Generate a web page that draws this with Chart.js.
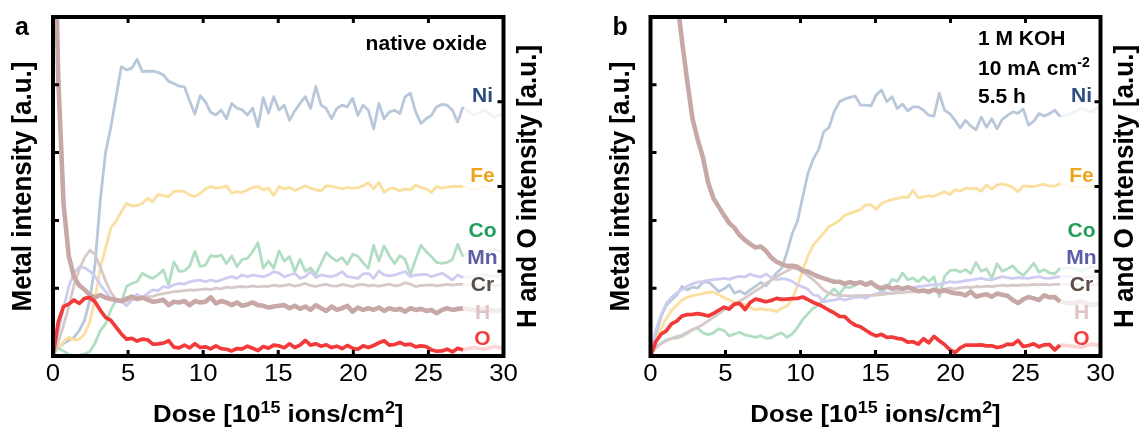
<!DOCTYPE html>
<html><head><meta charset="utf-8">
<script src="https://cdn.jsdelivr.net/npm/chart.js@4.4.1/dist/chart.umd.min.js"></script>
<style>
html,body{margin:0;padding:0;background:#fff;width:1140px;height:430px;overflow:hidden}
canvas{position:absolute;top:0}
#ca{left:0}
#cb{left:575px}
</style></head><body>
<canvas id="ca" width="575" height="430"></canvas>
<canvas id="cb" width="565" height="430"></canvas>
<script>
// ---- data (dose in 1e15 ions/cm2; intensities in a.u.) ----
const dose = [0,0.35,0.7,1.05,1.4,1.75,2.1,2.45,2.8,3.15,
3.5,3.85,4.2,4.55,4.9,5.25,5.6,5.95,6.3,6.65,
7,7.35,7.7,8.05,8.4,8.75,9.1,9.45,9.8,10.15,
10.5,10.85,11.2,11.55,11.9,12.25,12.6,12.95,13.3,13.65,
14,14.35,14.7,15.05,15.4,15.75,16.1,16.45,16.8,17.15,
17.5,17.85,18.2,18.55,18.9,19.25,19.6,19.95,20.3,20.65,
21,21.35,21.7,22.05,22.4,22.75,23.1,23.45,23.8,24.15,
24.5,24.85,25.2,25.55,25.9,26.25,26.6,26.95,27.3,
28,28.7,29.4,30];
const measuredEnd = 27.3;
const doseTicks = [0,5,10,15,20,25,30];
const metalTicks = [20,40,60,80];
const hoTicks = [25,50,75];
const elements = ['Ni','Fe','Co','Mn','Cr','H','O'];

// panel a: native oxide
const niA = [0.8,2.5,3.7,4.6,5.5,7.5,10.5,16.5,27,46,
60,67.5,76.5,85.3,84.4,84.9,87.5,83.9,84,84,
83.7,82.9,81,80.4,79.6,79.4,75.2,71.4,76.8,75,
71.9,71.1,72.6,70,74.5,73.1,72.6,71.1,73.1,67.6,
76.2,71.6,76.5,72.6,74,69.5,72.3,74.5,76.5,73,
79.5,74,73,70,73,74,73.5,76,71,74,
72.5,67,74.5,70,72,72.5,71.5,76.5,77.5,72,
68.6,70,71,73.5,74.2,74,72.5,69,73.5,
71,72.5,70.5,71.5];
const feA = [0.3,2.5,4.2,5.5,4.8,4.9,6.5,10,17,25.9,
31.8,37.7,39.8,42.6,45,44.3,44.4,45,46.5,45.5,
47.7,47.3,47,48.5,48.7,48.5,47.5,47,48,49.3,
50,49.5,49.7,50.2,48,48.5,48.2,49,49.7,50,
49,49.6,47.3,50,49.3,49.7,48.8,49.5,50.2,49.5,
49,48.7,50.2,50.1,49.7,49.3,49.7,49.5,49.7,50.2,
51.1,49.3,51.2,48.3,49.3,49.5,48.7,49.3,49,50.4,
49.7,49.3,48.3,50,49.5,49.8,50,50,50,
49,50,48.5,49.5];
const coA = [0.5,2.3,1.5,0.4,0.1,0.2,0.6,1.3,3.8,7.5,
9.5,13.6,16.5,16,20.5,21.4,21.9,24.4,23.5,22.9,
24,25.4,20.9,27.8,25,25.1,26.5,30.8,26.4,26.8,
29.6,29.3,29.8,27.3,29.5,26.4,28.5,28.8,30.8,33.4,
25.9,28,25.9,31,28,29.3,24.9,28.5,25,26,
24,27.3,30.5,29,28,29,27,30,29.5,27.5,
25.9,32.7,28,32.5,29.5,27.3,29.6,28.5,24,28.5,
32.7,30.8,29.3,27.6,27.3,27.6,28.5,33,29.3,
31,30,31.5,30.5];
const mnA = [0.3,7,14,20.5,24.5,26.3,26.1,25,23.5,21,
19,17,16,16.2,14.8,16.5,18.2,17.2,18.5,19.5,
19.3,20.5,20.2,21,21.4,21.2,21.9,22.2,22.4,21.9,
22.4,22,22.4,23,23.4,22.9,23.9,23.4,23.9,23.6,
23.4,23.9,24.9,24.4,23.4,23.9,24.4,22.9,23.4,24.9,
23.2,23.9,23.6,23.4,23.9,24.9,23.4,23.2,22.9,24.2,
24.4,22.9,25.1,23.9,23.6,23.9,24.4,24.9,23.4,23.9,
24,24.1,23.4,23.9,24.4,23.5,22.4,23.9,23.1,
23.5,24,23.5,24];
const crA = [0.8,4,9,14.5,21,25.5,29,31.2,30,26.2,
22.2,18.8,16.7,16,16.2,16.6,17,17.2,17.5,17.6,
18.1,18.4,18.7,19,19.1,19.3,19.5,19.4,19.6,19.8,
19.6,20,19.8,20.3,20.1,20.4,20.5,20.3,20.7,20.4,
20.6,20.5,20.9,20.6,20.8,21.1,20.6,20.9,21.4,20.8,
20.5,20.9,21.1,20.7,20.6,21.1,20.8,20.5,21,21.1,
20.7,20.9,20.6,20.9,21.2,20.7,20.9,21.6,21.2,20.5,
20.8,20.9,21,20.7,20.9,21.1,20.9,21.1,21.1,
20.8,21,20.8,21];
const hA = [150,82,45,29.5,23.3,20.8,19.6,18,17.3,18,
17.2,16.8,16.5,16.2,16.9,17.5,16.8,17.2,16.6,16,
16.2,16.6,15,16,15.8,16.2,15,16.2,15.8,16,
17.3,15.5,16.2,15.8,15,15.8,14.8,15.2,15.8,15,
14.8,14.3,14.6,14.8,15,14.1,14.8,13.9,14.6,13.6,
15,14.1,13.3,14.6,13.6,14.1,14.8,13.1,14.3,13.6,
14.1,13.6,14.3,13.3,14.1,13.6,13.9,13.1,14.1,13.6,
13.9,13.3,13.6,12.6,13.6,14.1,13.6,13.9,14.1,
13.6,13.9,13.3,13.6];
const oA = [0,10,14.6,15.3,16.5,15.5,17,17.2,16,13.5,
11.4,10.5,8.5,6.5,5,5.2,4.4,5,4.8,3.5,
3.6,3.8,4.5,2.6,2.4,3.2,2.4,3.6,2.5,2.7,
2.1,3,2.2,2,1.5,2.2,2.1,2.9,2.3,1.6,
2.8,2.3,3.2,3,2.4,3.6,2.5,3.2,4.6,3.2,
3.6,2.9,3.3,2.5,2.9,2.2,3.1,2.3,2,3,
2.5,3.1,3.9,4.5,3.2,3.4,4,3.3,3.5,2.7,
3,2.8,1.8,1.4,1.5,2,1.2,2.3,1.8,
2.5,2,2.8,2.2];

// panel b: 1 M KOH, 10 mA cm-2, 5.5 h
const niB = [0.5,6,11.5,15,16.5,18,20.5,19.5,20.3,20,
21.8,21.9,20.5,19,19.8,21,18.5,19.2,18.3,19.5,
20.5,21.7,20.7,22.5,24.5,25.9,30.6,36.2,39.8,47,
53.9,58.1,60.8,66.2,67.4,72.1,75,75.8,76.3,76.7,
74,74,73.8,77,78.5,75,76.5,73,74.3,72.3,
73.5,73.5,72.5,71,70.8,77.5,72.5,71.5,69.5,67.3,
69.5,67.8,66.7,70.5,67.5,70,67,69.8,71,72,
71.6,72.9,68.1,69.3,71.5,70.8,71.5,72.5,70.6,
71.5,73,72,74];
const feB = [0.5,4.5,8,11,13.4,15,16.5,17.3,17.8,18.1,
18.5,18.8,18.8,18.1,17.2,16.5,15.9,15.4,15.2,14.3,
13.6,14,13.6,13.6,13.1,14.1,14.7,16.8,20.7,25.3,
29.5,32.7,34.5,36.3,38.2,39,40,41.5,42.1,42.6,
43.2,44.6,44.6,43.3,45,45.7,46.1,46.5,46.9,46.7,
48.9,46.7,46.9,47.3,47.1,47.8,48.5,47.6,49,48.7,
49.5,49.3,49.5,48.6,50.5,49.2,50.4,50.8,50.4,49.8,
48.4,50.2,50,50,50.4,50.6,50.1,50.1,50.9,
50,49.5,50.5,50];
const coB = [0.3,2.5,3.8,4.7,5.2,5.3,5.8,6.7,7.8,8.2,
6.8,6.3,6.8,8,7.5,5.9,6.5,7,6.2,5.9,
5.5,6,5.2,5.4,6.3,6.8,5.5,6.5,8.4,10.8,
12.5,14.1,15,16.7,18.4,19.8,18.2,20.4,20.2,20.9,
21.8,20.8,21.4,21,18.8,20,22.6,22,24.5,22.5,
23,21.9,23.4,22,23.4,17.5,23.5,25.2,25.4,24.8,
25.5,24.3,27.6,25,25.7,22.9,27.2,25,25.7,26.6,
24.8,23.8,25.4,27.4,24.7,25.5,24.5,24.2,25.9,
26,25,26.5,25];
const mnB = [0.8,7.5,12,15.5,17.3,18.6,19.6,20.6,21.3,21.8,
22,22.3,22.5,22.7,22.9,22.6,23.2,23.5,23.3,24.2,
23.6,23.3,24.2,23.1,22.5,22.8,22.6,22,20.9,20.4,
19.6,18,17.7,16,16.3,16.5,17,16.5,16.9,17.3,
17.4,17,17.9,18.3,18.9,18.6,18.5,19.3,19.5,20,
20.2,20.5,20.6,20.9,21,21.1,21.5,21.9,21.7,21.9,
22.2,22.4,22.7,22.9,22.6,22.4,23,23.4,23.1,22.9,
23.1,23,22.9,23.2,23.4,23,22.9,23.2,23.4,
23.4,23,23.5,23];
const crB = [0.5,2.3,3.6,4.5,5.2,5.7,6.2,7,7.8,8.5,
9.3,10.4,11.4,12.5,13.6,14.6,15.5,16.2,17.1,18.2,
19.2,20.1,21.4,22.4,23.4,24.3,25.1,25.9,25.6,24.9,
23.6,22.5,21.1,19.4,18.5,18,17.8,17.8,17.7,17.8,
17.8,17.9,17.9,18,18.1,18.3,18.4,18.6,18.7,18.9,
19,18.9,19.2,19.4,19.3,19.6,19.7,20,19.8,20.1,
20.3,20.2,20.5,20.4,20.6,20.5,20.7,20.9,20.7,20.9,
20.8,21,20.9,21.1,21,21.1,21,21.1,21.1,
21,21.1,21,21.1];
const hB = [250,220,190,160,130,106,93,81,70,63.8,
58.5,51,46.5,44,41.5,39.2,37.8,35.6,34.2,33,
32,32.3,31,29,27.8,27.1,26.5,26.6,26.3,25.1,
24.9,24.1,23.4,22.9,22.4,21.9,21.9,21.3,21.8,21.3,
21.8,21,21.7,20.5,20,20.6,19.8,20.3,19.8,20.3,
19.8,19.1,19.3,18.9,19.6,18.9,19.4,18.9,18.5,18.4,
17.9,19,17.5,17.9,18.2,17.5,18.4,18.1,17.8,16.5,
15.6,16.7,17.4,17,16.5,17.9,17.3,17.4,16,
15.5,16,15,15.5];
const oB = [0,4.2,6.4,7.4,9.5,10.3,11.8,12.2,12.3,12.5,
12.2,11.8,12.6,13.5,14.4,13.8,15.3,15.5,13.7,15.8,
16.8,16.4,16,16.4,17,16.7,16.8,16.9,17,17.4,
16.6,15.8,15.2,14.4,13.5,12.7,11.7,11.6,10.1,9.1,
8.6,7.6,6.6,5.9,6.4,5.5,5.6,5.2,5,4.1,
4.2,3.5,5.1,3.9,5.8,4.5,3.4,1.9,1,2.4,
3.2,3.2,3.2,3.3,3,3,2.5,2.8,3.5,3.4,
4.6,2.8,3.1,3.6,2.7,3.3,3.4,1.8,3.2,
3,2.5,3.5,3];

// ---- styles ----
const FF = '"Liberation Sans", Arial, Helvetica, sans-serif';
const LINE = {Ni:[184,200,218], Fe:[251,223,158], Co:[177,222,195], Mn:[206,204,241], Cr:[215,201,199], H:[200,167,167], O:[242,58,58]};
const WIDTH = {Ni:2.8, Fe:2.8, Co:2.8, Mn:2.8, Cr:2.8, H:4.6, O:3.7};
const ORDER = {Ni:6, Fe:5, Co:4, Mn:3, Cr:2, H:1, O:0};
const LABEL = {Ni:'#2d4f80', Fe:'#eea51c', Co:'#1f9d5a', Mn:'#5e5ea8', Cr:'#5b4d47', H:'#ddc3c3', O:'#f53b3b'};
const LABEL_Y = {Ni:102, Fe:182, Co:236.5, Mn:263.5, Cr:291, H:318.5, O:345};
const STRETCH = 1.12;

function rgba(c,a){return `rgba(${c[0]},${c[1]},${c[2]},${a})`;}

function makeDataset(name, vals){
  const axis = (name==='H'||name==='O') ? 'y2' : 'y';
  return {
    label:name,
    data: vals.map((v,i)=>({x:dose[i], y:v})),
    yAxisID: axis,
    borderColor: rgba(LINE[name],1),
    borderWidth: WIDTH[name],
    borderJoinStyle:'round',
    order: ORDER[name],
    pointRadius:0,
    fill:false,
    tension:0,
    segment:{ borderColor: c => dose[c.p0DataIndex] >= measuredEnd ? rgba(LINE[name],0.22) : undefined }
  };
}

// text made of parts [text, size, raise]; optional horizontal stretch sx
function richText(ctx, parts, x, y, align, weight, sx){
  sx = sx || 1;
  let w = 0;
  parts.forEach(p=>{ctx.font = `${weight} ${p[1]}px ${FF}`; w += ctx.measureText(p[0]).width;});
  w *= sx;
  let cx = align==='center' ? x - w/2 : (align==='right' ? x - w : x);
  ctx.save();
  ctx.translate(cx, y); ctx.scale(sx, 1);
  ctx.textAlign = 'left'; ctx.textBaseline = 'alphabetic';
  let px = 0;
  parts.forEach(p=>{ctx.font = `${weight} ${p[1]}px ${FF}`; ctx.fillText(p[0], px, -p[2]); px += ctx.measureText(p[0]).width;});
  ctx.restore();
}

const decorPlugin = {
  id:'decor',
  afterDraw(chart, args, o){
    const {ctx, chartArea:{left,right,top,bottom}, scales} = chart;
    ctx.save();
    // frame
    ctx.strokeStyle = '#000'; ctx.lineWidth = 4;
    ctx.strokeRect(left, top, right-left, bottom-top);
    // inward ticks
    ctx.lineWidth = 3;
    ctx.beginPath();
    doseTicks.slice(1,-1).forEach(v=>{
      const px = scales.x.getPixelForValue(v);
      ctx.moveTo(px, top); ctx.lineTo(px, top+6);
      ctx.moveTo(px, bottom); ctx.lineTo(px, bottom-6);
    });
    metalTicks.forEach(v=>{const py = scales.y.getPixelForValue(v); ctx.moveTo(left,py); ctx.lineTo(left+6,py);});
    hoTicks.forEach(v=>{const py = scales.y2.getPixelForValue(v); ctx.moveTo(right,py); ctx.lineTo(right-6,py);});
    ctx.stroke();
    ctx.fillStyle = '#000';
    // x tick labels from the library's x scale ticks
    scales.x.ticks.forEach(t=>{
      richText(ctx, [[String(t.value),23,0]], scales.x.getPixelForValue(t.value), 381, 'center', 'normal', STRETCH);
    });
    // panel letter
    richText(ctx, [[o.letter,25,0]], left - 38, 35, 'left', 'bold', 1);
    // axis titles (rotated, reading bottom to top)
    ctx.font = `bold 26px ${FF}`; ctx.textAlign='center'; ctx.textBaseline='middle';
    const midY = (top+bottom)/2;
    [[left - 29.5, 'Metal intensity [a.u.]'], [right + 24.5, 'H and O intensity [a.u.]']].forEach(([tx,t])=>{
      ctx.save(); ctx.translate(tx, midY); ctx.scale(1.06,1); ctx.rotate(-Math.PI/2); ctx.fillText(t, 0, 0); ctx.restore();
    });
    richText(ctx, [['Dose [10',23,0],['15',16,9.5],[' ions/cm',23,0],['2',16,9.5],[']',23,0]], (left+right)/2, 422, 'center', 'bold', STRETCH);
    // annotation
    o.notes.forEach(n=>richText(ctx, n.parts, n.right ? right + n.dx : left + n.dx, n.y, n.right ? 'right' : 'left', 'bold', 1));
    // element labels
    ctx.font = `bold 21px ${FF}`; ctx.textAlign='center'; ctx.textBaseline='alphabetic';
    elements.forEach(e=>{ctx.fillStyle = LABEL[e]; ctx.fillText(e, right + o.labelDx, LABEL_Y[e]);});
    ctx.restore();
  }
};

function makeChart(id, series, leftW, rightW, decor){
  const datasets = elements.map((e,k)=>makeDataset(e, series[k]));
  return new Chart(document.getElementById(id), {
    type:'line',
    data:{datasets},
    options:{
      responsive:false, animation:false, events:[], devicePixelRatio:1,
      layout:{padding:{top:17,left:0,right:0,bottom:0}},
      plugins:{legend:{display:false}, tooltip:{enabled:false}, decor},
      scales:{
        x:{type:'linear', min:0, max:30, position:'bottom',
           afterBuildTicks: s => { s.ticks = doseTicks.map(v=>({value:v})); },
           ticks:{display:false},
           grid:{display:false, drawTicks:false}, border:{display:false},
           afterFit: s => { s.height = 74; }},
        y:{type:'linear', min:0, max:100, position:'left',
           ticks:{display:false}, grid:{display:false, drawTicks:false}, border:{display:false},
           afterFit: s => { s.width = leftW; }},
        y2:{type:'linear', min:0, max:100, position:'right',
           ticks:{display:false}, grid:{display:false, drawTicks:false}, border:{display:false},
           afterFit: s => { s.width = rightW; }}
      }
    },
    plugins:[decorPlugin]
  });
}

makeChart('ca', [niA,feA,coA,mnA,crA,hA,oA], 53, 71.5, {
  letter:'a', labelDx:-21,
  notes:[{parts:[['native oxide',21,0]], right:true, dx:-16.5, y:50}]
});
makeChart('cb', [niB,feB,coB,mnB,crB,hB,oB], 75.5, 39.5, {
  letter:'b', labelDx:-19,
  notes:[
    {parts:[['1 M KOH',21,0]], right:false, dx:327.5, y:45},
    {parts:[['10 mA cm',21,0],['-2',14,8]], right:false, dx:327.5, y:75},
    {parts:[['5.5 h',21,0]], right:false, dx:327.5, y:102.5}
  ]
});
</script>
</body></html>
